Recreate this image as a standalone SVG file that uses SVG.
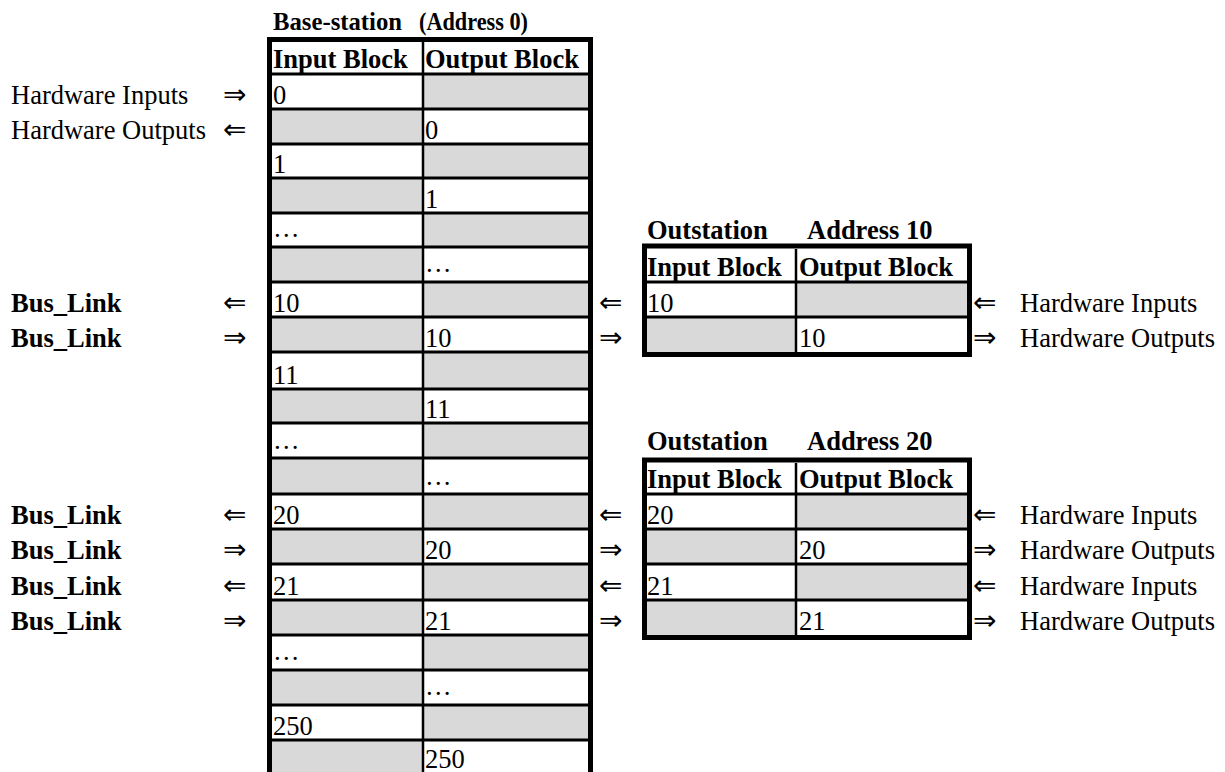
<svg xmlns="http://www.w3.org/2000/svg" width="1225" height="772" viewBox="0 0 1225 772">
<style>
text{font-family:"Liberation Serif","Times New Roman",serif;font-size:26.5px;fill:#000}
.b{font-weight:bold}
.g{fill:#d9d9d9}
.thick{stroke:#000;stroke-width:5;fill:none}
.thin{stroke:#000;stroke-width:3;fill:none}
.ar{font-family:"DejaVu Sans","Liberation Serif",sans-serif;font-size:28px}
</style>
<rect width="1225" height="772" fill="#fff"/>

<g id="base-station">
  <g id="base-cells">
    <rect class="g" x="424" y="74" width="165" height="35"/>
    <rect class="g" x="272" y="109" width="152" height="35"/>
    <rect class="g" x="424" y="144" width="165" height="34"/>
    <rect class="g" x="272" y="178" width="152" height="35"/>
    <rect class="g" x="424" y="213" width="165" height="34"/>
    <rect class="g" x="272" y="247" width="152" height="35"/>
    <rect class="g" x="424" y="282" width="165" height="35"/>
    <rect class="g" x="272" y="317" width="152" height="35"/>
    <rect class="g" x="424" y="352" width="165" height="37"/>
    <rect class="g" x="272" y="389" width="152" height="34"/>
    <rect class="g" x="424" y="423" width="165" height="35"/>
    <rect class="g" x="272" y="458" width="152" height="36"/>
    <rect class="g" x="424" y="494" width="165" height="35"/>
    <rect class="g" x="272" y="529" width="152" height="35"/>
    <rect class="g" x="424" y="564" width="165" height="36"/>
    <rect class="g" x="272" y="600" width="152" height="35"/>
    <rect class="g" x="424" y="635" width="165" height="35"/>
    <rect class="g" x="272" y="670" width="152" height="35"/>
    <rect class="g" x="424" y="705" width="165" height="35"/>
    <rect class="g" x="272" y="740" width="152" height="40"/>
  </g>
  <path class="thin" d="M272 74H588M272 109H588M272 144H588M272 178H588M272 213H588M272 247H588M272 282H588M272 317H588M272 352H588M272 389H588M272 423H588M272 458H588M272 494H588M272 529H588M272 564H588M272 600H588M272 635H588M272 670H588M272 705H588M272 740H588"/>
  <path class="thin" d="M423 42V775" style="stroke-width:2.5"/>
  <path class="thick" d="M269.5 780V39.5H590.5V780"/>
  <text class="b" x="273" y="30" style="font-size:25.5px" textLength="129" lengthAdjust="spacingAndGlyphs">Base-station</text>
  <text class="b" x="419" y="30" style="font-size:25.5px" textLength="109" lengthAdjust="spacingAndGlyphs">(Address 0)</text>
  <g>
    <text class="b" x="273" y="68">Input Block</text>
    <text x="273" y="104">0</text>
    <text x="273" y="173">1</text>
    <text x="273" y="237">…</text>
    <text x="273" y="312">10</text>
    <text x="273" y="384">11</text>
    <text x="273" y="449">…</text>
    <text x="273" y="524">20</text>
    <text x="273" y="595">21</text>
    <text x="273" y="660">…</text>
    <text x="273" y="735">250</text>
  </g>
  <g>
    <text class="b" x="425" y="68">Output Block</text>
    <text x="425" y="139">0</text>
    <text x="425" y="208">1</text>
    <text x="425" y="272">…</text>
    <text x="425" y="347">10</text>
    <text x="425" y="418">11</text>
    <text x="425" y="485">…</text>
    <text x="425" y="559">20</text>
    <text x="425" y="630">21</text>
    <text x="425" y="695">…</text>
    <text x="425" y="768">250</text>
  </g>
</g>

<g id="outstation-10">
  <rect class="g" x="797" y="282" width="171" height="35"/>
  <rect class="g" x="647" y="317" width="149" height="35"/>
  <path class="thin" d="M647 282H967M647 317H967"/>
  <path class="thin" d="M796 249V352" style="stroke-width:2.5"/>
  <rect class="thick" x="644.5" y="246" width="325" height="108.5"/>
  <text class="b" x="647" y="239">Outstation</text>
  <text class="b" x="807" y="239">Address 10</text>
  <text class="b" x="647" y="276">Input Block</text>
  <text class="b" x="799" y="276">Output Block</text>
  <text x="647" y="312">10</text>
  <text x="799" y="347">10</text>
</g>

<g id="outstation-20">
  <rect class="g" x="797" y="494" width="171" height="35"/>
  <rect class="g" x="647" y="529" width="149" height="35"/>
  <rect class="g" x="797" y="564" width="171" height="36"/>
  <rect class="g" x="647" y="600" width="149" height="35"/>
  <path class="thin" d="M647 494H967M647 529H967M647 564H967M647 600H967"/>
  <path class="thin" d="M796 463V635" style="stroke-width:2.5"/>
  <rect class="thick" x="644.5" y="460" width="325" height="177.5"/>
  <text class="b" x="647" y="450">Outstation</text>
  <text class="b" x="807" y="450">Address 20</text>
  <text class="b" x="647" y="488">Input Block</text>
  <text class="b" x="799" y="488">Output Block</text>
  <text x="647" y="524">20</text>
  <text x="799" y="559">20</text>
  <text x="647" y="595">21</text>
  <text x="799" y="630">21</text>
</g>

<g id="left-labels">
  <text x="11" y="104">Hardware Inputs</text>
  <text x="11" y="139">Hardware Outputs</text>
  <text class="b" x="11" y="312">Bus_Link</text>
  <text class="b" x="11" y="347">Bus_Link</text>
  <text class="b" x="11" y="524">Bus_Link</text>
  <text class="b" x="11" y="559">Bus_Link</text>
  <text class="b" x="11" y="595">Bus_Link</text>
  <text class="b" x="11" y="630">Bus_Link</text>
</g>

<g id="right-labels">
  <text x="1020" y="312">Hardware Inputs</text>
  <text x="1020" y="347">Hardware Outputs</text>
  <text x="1020" y="524">Hardware Inputs</text>
  <text x="1020" y="559">Hardware Outputs</text>
  <text x="1020" y="595">Hardware Inputs</text>
  <text x="1020" y="630">Hardware Outputs</text>
</g>

<g id="connectors">
  <text class="ar" x="223" y="104">⇒</text>
  <text class="ar" x="223" y="139">⇐</text>
  <text class="ar" x="223" y="312">⇐</text>
  <text class="ar" x="223" y="347">⇒</text>
  <text class="ar" x="223" y="524">⇐</text>
  <text class="ar" x="223" y="559">⇒</text>
  <text class="ar" x="223" y="595">⇐</text>
  <text class="ar" x="223" y="630">⇒</text>
  <text class="ar" x="599" y="312">⇐</text>
  <text class="ar" x="599" y="347">⇒</text>
  <text class="ar" x="599" y="524">⇐</text>
  <text class="ar" x="599" y="559">⇒</text>
  <text class="ar" x="599" y="595">⇐</text>
  <text class="ar" x="599" y="630">⇒</text>
  <text class="ar" x="973" y="312">⇐</text>
  <text class="ar" x="973" y="347">⇒</text>
  <text class="ar" x="973" y="524">⇐</text>
  <text class="ar" x="973" y="559">⇒</text>
  <text class="ar" x="973" y="595">⇐</text>
  <text class="ar" x="973" y="630">⇒</text>
</g>
</svg>
